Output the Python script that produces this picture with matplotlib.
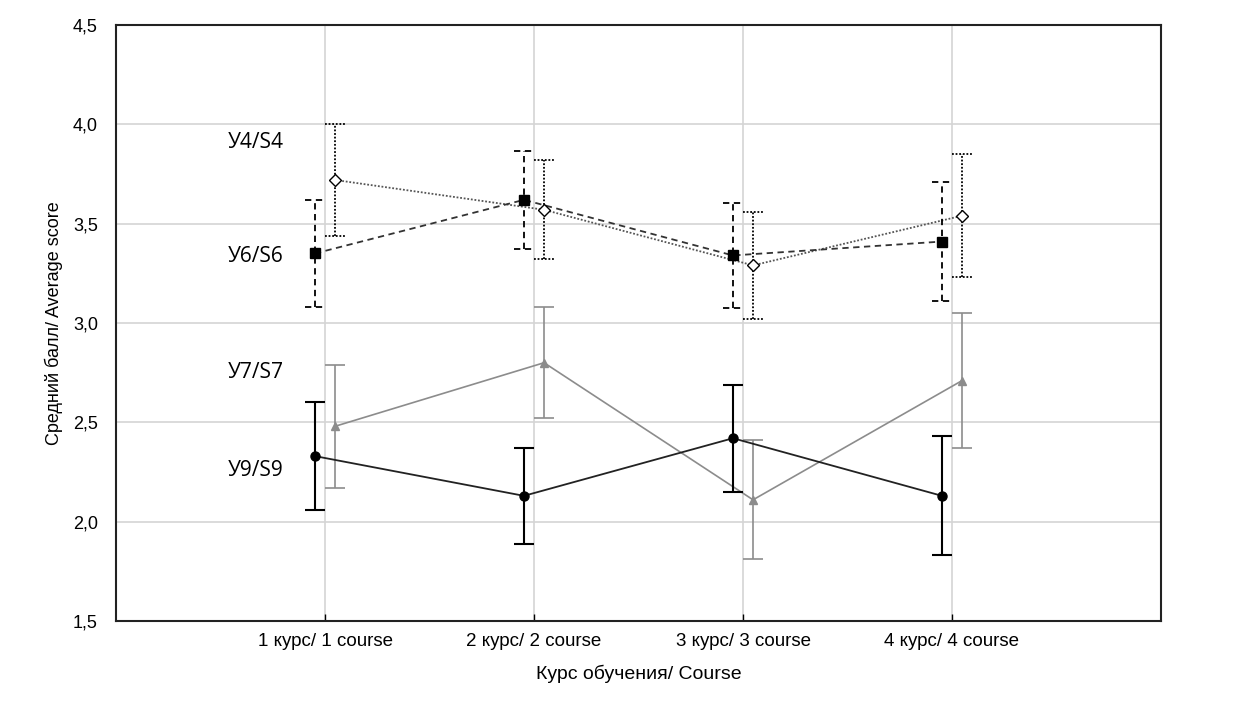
import matplotlib
matplotlib.use('Agg')
import matplotlib.pyplot as plt
import numpy as np

courses = ['1 курс/ 1 course', '2 курс/ 2 course', '3 курс/ 3 course', '4 курс/ 4 course']
y_ticks = [1.5, 2.0, 2.5, 3.0, 3.5, 4.0, 4.5]

# mean and half-width of the interval for each scale
s4_mean = [3.72, 3.57, 3.29, 3.54]
s4_err = [0.28, 0.25, 0.27, 0.31]
s6_mean = [3.35, 3.62, 3.34, 3.41]
s6_err = [0.27, 0.245, 0.265, 0.30]
s7_mean = [2.48, 2.80, 2.11, 2.71]
s7_err = [0.31, 0.28, 0.30, 0.34]
s9_mean = [2.33, 2.13, 2.42, 2.13]
s9_err = [0.27, 0.24, 0.27, 0.30]

labels = ['У4/S4', 'У6/S6', 'У7/S7', 'У9/S9']
label_y = [3.91, 3.335, 2.75, 2.26]

OFF = 0.048
CAP = 0.05

fig = plt.figure(figsize=(12.34, 7.09), dpi=100)
ax = fig.add_axes([116 / 1234, 1 - 621 / 709, (1161 - 116) / 1234, (621 - 25) / 709])

x = np.arange(1, len(courses) + 1)


def draw(xs, mean, err, color, ls, ecolor, els, marker, ms, mfc, lw, elw):
    mean = np.array(mean)
    err = np.array(err)
    ax.plot(xs, mean, color=color, linestyle=ls, linewidth=lw, zorder=3)
    ax.vlines(xs, mean - err, mean + err, colors=ecolor, linestyles=els, linewidth=elw, zorder=3)
    for edge in (mean - err, mean + err):
        ax.hlines(edge, xs - CAP, xs + CAP, colors=ecolor, linestyles=els, linewidth=elw, zorder=3)
    ax.plot(xs, mean, linestyle='none', marker=marker, markersize=ms,
            markerfacecolor=mfc, markeredgecolor=ecolor, markeredgewidth=1.0, zorder=4)


draw(x + OFF, s4_mean, s4_err, '#555555', (0, (1, 1)), 'black', (0, (1, 1)), 'D', 6, 'white', 1.3, 1.3)
draw(x - OFF, s6_mean, s6_err, '#333333', (0, (3.5, 2.5)), 'black', (0, (3.5, 2.5)), 's', 7, 'black', 1.3, 1.3)
draw(x + OFF, s7_mean, s7_err, '#8c8c8c', '-', '#8c8c8c', '-', '^', 5.5, '#8c8c8c', 1.2, 1.2)
draw(x - OFF, s9_mean, s9_err, '#222222', '-', 'black', '-', 'o', 6.5, 'black', 1.3, 1.5)

for lab, ly in zip(labels, label_y):
    ax.text(0.535, ly, lab, fontsize=15, family='Open Sans', va='center', ha='left', color='black')

ax.set_xlim(0, 5)
ax.set_ylim(1.5, 4.5)
ax.set_xticks(x)
ax.set_xticklabels(courses, fontsize=13.5, family='Liberation Sans')
ax.set_yticks(y_ticks)
ax.set_yticklabels([f'{t:.1f}'.replace('.', ',') for t in y_ticks], fontsize=13, family='Liberation Sans')
ax.tick_params(axis='x', direction='in', length=5, width=1, pad=9)
ax.tick_params(axis='y', direction='in', length=0, pad=13)
ax.grid(True, color='#d4d4d4', linewidth=1.2, zorder=0)
ax.set_axisbelow(True)
for sp in ax.spines.values():
    sp.set_linewidth(1.5)
    sp.set_color('#222222')

ax.set_xlabel('Курс обучения/ Course', fontsize=14, family='Liberation Sans', labelpad=10)
ax.set_ylabel('Средний балл/ Average score', fontsize=13, family='Liberation Sans', labelpad=7)

fig.savefig('out.png', dpi=100)
